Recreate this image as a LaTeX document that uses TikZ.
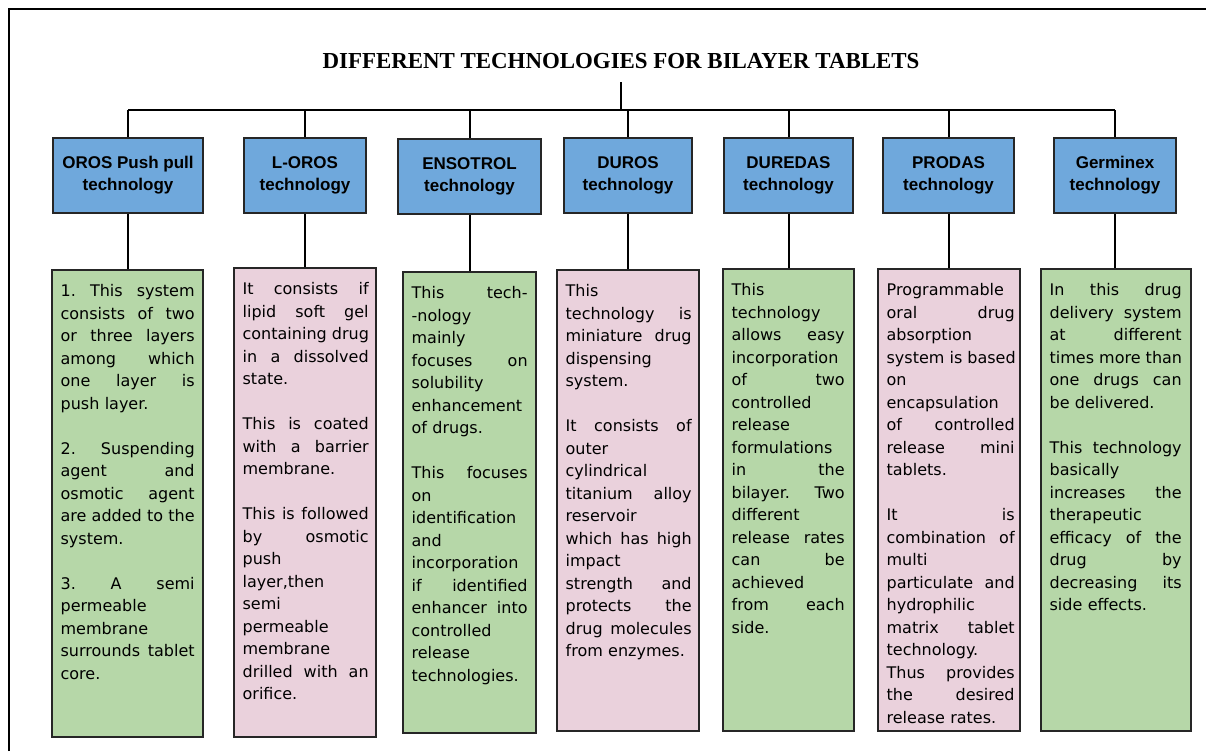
\documentclass[tikz,border=0pt]{standalone}
\usepackage{fontspec}
\usepackage{tikz}
\usetikzlibrary{positioning}

\newfontfamily\titlefont{Liberation Serif}
\newfontfamily\headfont{Liberation Sans}
\newfontfamily\bodyfont{DejaVu Sans}

\definecolor{techblue}{HTML}{6FA8DC}
\definecolor{techgreen}{HTML}{B6D7A8}
\definecolor{techpink}{HTML}{EAD1DC}

\newcommand{\jl}[1]{\leavevmode\hbox to \hsize{\spaceskip=\fontdimen2\font plus 1fill\xspaceskip=\spaceskip #1}\\}

\tikzset{
	tech/.style={draw=black!85, line width=0.75pt, fill=techblue, inner sep=0pt, align=center,
		minimum height=37.5pt, font=\headfont\bfseries\fontsize{8.5}{11}\selectfont},
	descbox/.style={draw=black!85, line width=0.75pt, inner sep=0pt},
	desc/.style={inner sep=0pt, align=left, font=\bodyfont\fontsize{8}{11.25}\selectfont},
	wire/.style={line width=1pt}
}

\begin{document}
\begin{tikzpicture}[x=0.5pt, y=-0.5pt]
			\useasboundingbox (0,0) rectangle (1206,751);
			\draw [line width=1pt] (9,751) -- (9,8.5) -- (1206,8.5);

			\node [anchor=base, inner sep=0pt, font=\titlefont\bfseries\fontsize{11.45}{13}\selectfont] (title) at (621,68) {DIFFERENT TECHNOLOGIES FOR BILAYER TABLETS};
			\coordinate (top) at (621,82);
			\coordinate (bus) at (621,110);

			\node [tech, minimum width=75pt] (oros) at (128,175.5) {OROS Push pull\\technology};
			\node [tech, minimum width=61pt] (loros) at (305,175.5) {L-OROS\\technology};
			\node [tech, minimum width=71.5pt] (ensotrol) at (469.5,176.5) {ENSOTROL\\technology};
			\node [tech, minimum width=64pt] (duros) at (628,175.5) {DUROS\\technology};
			\node [tech, minimum width=64.5pt] (duredas) at (788.5,175.5) {DUREDAS\\technology};
			\node [tech, minimum width=65.5pt] (prodas) at (948.5,175.5) {PRODAS\\technology};
			\node [tech, minimum width=61pt] (germinex) at (1115,175.5) {Germinex\\technology};

			\node [descbox, fill=techgreen, minimum width=75.5pt, minimum height=233.5pt] (orosbox) at (127.5,503.5) {};
			\node [descbox, fill=techpink, minimum width=71pt, minimum height=234.5pt] (lorosbox) at (305,502.5) {};
			\node [descbox, fill=techgreen, minimum width=66.5pt, minimum height=230.5pt] (ensotrolbox) at (469.5,502.5) {};
			\node [descbox, fill=techpink, minimum width=71pt, minimum height=230.5pt] (durosbox) at (628,500.5) {};
			\node [descbox, fill=techgreen, minimum width=65.5pt, minimum height=231pt] (duredasbox) at (788.5,500) {};
			\node [descbox, fill=techpink, minimum width=71pt, minimum height=231pt] (prodasbox) at (949,500) {};
			\node [descbox, fill=techgreen, minimum width=75pt, minimum height=231pt] (germinexbox) at (1116,500) {};

			\node [desc, text width=67pt, below right=7.5pt and 4.5pt of orosbox.north west] (orostext) {%
				\jl{1. This system}\jl{consists of two}\jl{or three layers}\jl{among which}\jl{one layer is}push layer.\\
				\mbox{}\\
				\jl{2. Suspending}\jl{agent and}\jl{osmotic agent}\jl{are added to the}system.\\
				\mbox{}\\
				\jl{3. A semi}permeable\\membrane\\\jl{surrounds tablet}core.};
			\node [desc, text width=63pt, below right=7.5pt and 4.5pt of lorosbox.north west] (lorostext) {%
				\jl{It consists if}\jl{lipid soft gel}\jl{containing drug}\jl{in a dissolved}state.\\
				\mbox{}\\
				\jl{This is coated}\jl{with a barrier}membrane.\\
				\mbox{}\\
				\jl{This is followed}\jl{by osmotic}push\\layer,then\\semi\\permeable\\membrane\\\jl{drilled with an}orifice.};
			\node [desc, text width=58pt, below right=7.5pt and 4.5pt of ensotrolbox.north west] (ensotroltext) {%
				\jl{This tech-}-nology\\mainly\\\jl{focuses on}solubility\\enhancement\\of drugs.\\
				\mbox{}\\
				\jl{This focuses}on\\identification\\and\\incorporation\\\jl{if identified}\jl{enhancer into}controlled\\release\\technologies.};
			\node [desc, text width=63pt, below right=7.5pt and 4.5pt of durosbox.north west] (durostext) {%
				This\\\jl{technology is}\jl{miniature drug}dispensing\\system.\\
				\mbox{}\\
				\jl{It consists of}outer\\cylindrical\\\jl{titanium alloy}reservoir\\\jl{which has high}impact\\\jl{strength and}\jl{protects the}\jl{drug molecules}from enzymes.};
			\node [desc, text width=56.5pt, below right=7.5pt and 4.5pt of duredasbox.north west] (duredastext) {%
				This\\technology\\\jl{allows easy}incorporation\\\jl{of two}controlled\\release\\formulations\\\jl{in the}\jl{bilayer. Two}different\\\jl{release rates}\jl{can be}achieved\\\jl{from each}side.};
			\node [desc, text width=64pt, below right=7.5pt and 4.5pt of prodasbox.north west] (prodastext) {%
				Programmable\\\jl{oral drug}absorption\\\jl{system is based}on\\encapsulation\\\jl{of controlled}\jl{release mini}tablets.\\
				\mbox{}\\
				\jl{It is}\jl{combination of}multi\\\jl{particulate and}hydrophilic\\\jl{matrix tablet}technology.\\\jl{Thus provides}\jl{the desired}release rates.};
			\node [desc, text width=66pt, below right=7.5pt and 4.5pt of germinexbox.north west] (germinextext) {%
				\jl{In this drug}\jl{delivery system}\jl{at different}\jl{times more than}\jl{one drugs can}be delivered.\\
				\mbox{}\\
				\jl{This technology}basically\\\jl{increases the}therapeutic\\\jl{efficacy of the}\jl{drug by}\jl{decreasing its}side effects.};

			\draw [wire] (top) to (bus);
			\draw [wire] (bus -| oros.north) to (bus -| germinex.north);
			\draw [wire] (bus -| oros.north) to (oros.north);
			\draw [wire] (bus -| loros.north) to (loros.north);
			\draw [wire] (bus -| ensotrol.north) to (ensotrol.north);
			\draw [wire] (bus -| duros.north) to (duros.north);
			\draw [wire] (bus -| duredas.north) to (duredas.north);
			\draw [wire] (bus -| prodas.north) to (prodas.north);
			\draw [wire] (bus -| germinex.north) to (germinex.north);
			\draw [wire] (oros.south) to (oros.south |- orosbox.north);
			\draw [wire] (loros.south) to (loros.south |- lorosbox.north);
			\draw [wire] (ensotrol.south) to (ensotrol.south |- ensotrolbox.north);
			\draw [wire] (duros.south) to (duros.south |- durosbox.north);
			\draw [wire] (duredas.south) to (duredas.south |- duredasbox.north);
			\draw [wire] (prodas.south) to (prodas.south |- prodasbox.north);
			\draw [wire] (germinex.south) to (germinex.south |- germinexbox.north);
		\end{tikzpicture}
\end{document}
